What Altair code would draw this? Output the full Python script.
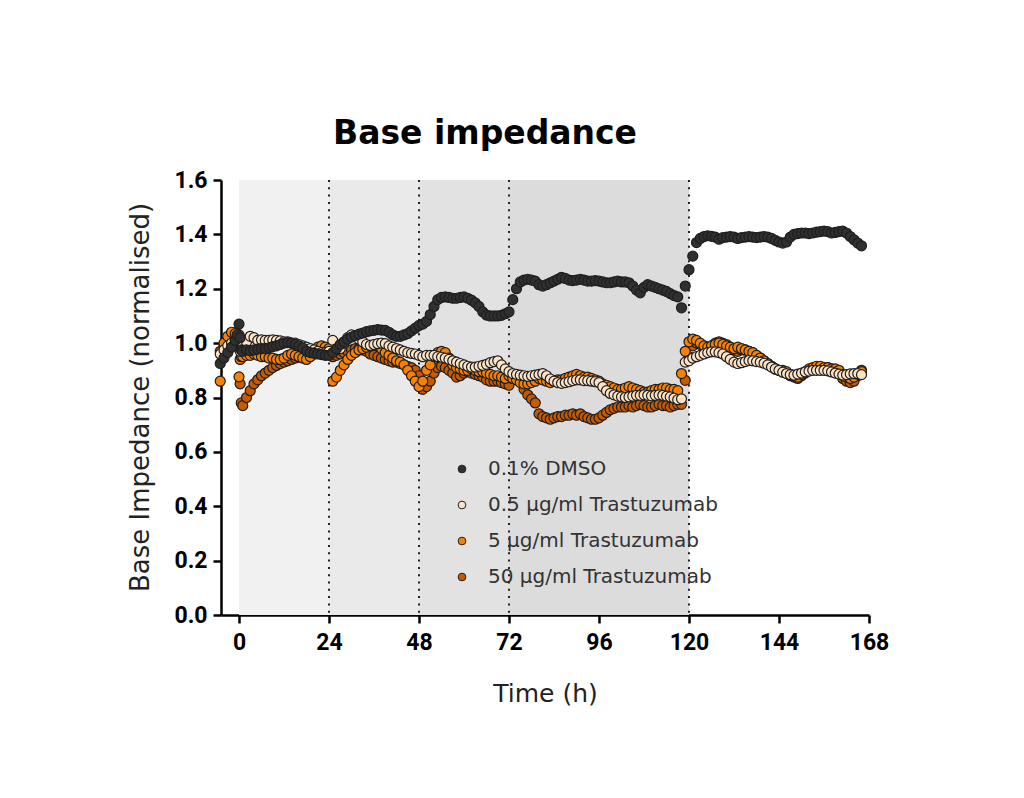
import altair as alt
import pandas as pd

# ---------------- data ----------------
TIME = [-5, -4, -3, -2, -1, -0.5, 0, 0.3, 0.6] + list(range(1, 167))

SERIES = ["0.1% DMSO", "0.5 µg/ml Trastuzumab", "5 µg/ml Trastuzumab", "50 µg/ml Trastuzumab"]
COLORS = ["#303030", "#fde3c6", "#f98000", "#c65a00"]

DMSO = [
    0.925, 0.945, 0.965, 0.985, 1.01, 1.03, 1.07, 1.02, 0.975,
    0.97, 0.975, 0.972, 0.975, 0.978, 0.98, 0.98, 0.983, 0.987, 0.99, 0.995, 1.0,
    1.002, 1.0, 0.995, 0.99, 0.982, 0.97, 0.965, 0.963, 0.96, 0.958, 0.955, 0.955,
    0.965, 0.98, 0.995, 1.005, 1.015, 1.022, 1.028, 1.033, 1.037, 1.042, 1.045, 1.047,
    1.05, 1.048, 1.047, 1.04, 1.03, 1.025, 1.025, 1.03, 1.035, 1.045, 1.055, 1.065,
    1.07, 1.08, 1.105, 1.135, 1.16, 1.168, 1.17, 1.168, 1.165, 1.165, 1.168, 1.17,
    1.165, 1.158, 1.148, 1.135, 1.115, 1.103, 1.1, 1.1, 1.1, 1.102, 1.108, 1.115,
    1.16, 1.2, 1.225, 1.232, 1.235, 1.232, 1.228, 1.215, 1.21, 1.215, 1.222, 1.228,
    1.235, 1.242, 1.238, 1.232, 1.23, 1.232, 1.235, 1.232, 1.228, 1.228, 1.23, 1.228,
    1.225, 1.222, 1.222, 1.225, 1.228, 1.225, 1.225, 1.222, 1.21, 1.195, 1.185, 1.205,
    1.215, 1.21, 1.205, 1.2, 1.195, 1.19, 1.182, 1.175, 1.17, 1.13, 1.21, 1.27,
    1.32, 1.37, 1.385, 1.392, 1.395, 1.393, 1.39, 1.382, 1.388, 1.39, 1.392, 1.39,
    1.385, 1.388, 1.39, 1.392, 1.39, 1.388, 1.39, 1.392, 1.39, 1.385, 1.378, 1.372,
    1.368, 1.372, 1.39, 1.4, 1.403, 1.405, 1.405, 1.403, 1.405, 1.408, 1.41,
    1.412, 1.41, 1.405, 1.407, 1.41, 1.412, 1.405, 1.392, 1.38, 1.368, 1.358,
]

T05 = [
    0.96, 0.975, 0.99, 1.0, 1.01, 1.0, 0.99, 0.97, 0.98,
    1.0, 1.005, 1.025, 1.02, 1.01, 1.012, 1.01, 1.01, 1.012, 1.01, 1.008, 1.005,
    1.005, 1.0, 1.0, 0.995, 0.99, 0.985, 0.98, 0.975, 0.97, 0.965, 0.965, 0.97,
    1.01, 0.975, 0.98, 1.0, 1.02, 1.03, 1.025, 1.015, 1.005, 0.995, 0.992, 0.995,
    0.998, 1.0, 0.998, 0.99, 0.985, 0.98, 0.975, 0.97, 0.965, 0.962, 0.96, 0.955,
    0.95, 0.955, 0.955, 0.955, 0.95, 0.948, 0.945, 0.94, 0.935, 0.93, 0.925, 0.92,
    0.915, 0.912, 0.912, 0.915, 0.918, 0.922, 0.928, 0.932, 0.935, 0.92, 0.905, 0.895,
    0.888, 0.885, 0.882, 0.88, 0.878, 0.88, 0.882, 0.885, 0.888, 0.88, 0.868, 0.86,
    0.855, 0.852, 0.855, 0.858, 0.862, 0.865, 0.865, 0.862, 0.862, 0.86, 0.858, 0.855,
    0.84, 0.825, 0.815, 0.81, 0.805, 0.802, 0.8, 0.802, 0.805, 0.808, 0.808, 0.81,
    0.808, 0.806, 0.808, 0.81, 0.808, 0.805, 0.802, 0.798, 0.792, 0.795, 0.93, 0.935,
    0.945, 0.95, 0.955, 0.96, 0.965, 0.968, 0.968, 0.965, 0.96, 0.95, 0.94, 0.93,
    0.925, 0.928, 0.932, 0.936, 0.935, 0.932, 0.93, 0.926, 0.92, 0.912, 0.905, 0.9,
    0.893, 0.888, 0.884, 0.882, 0.886, 0.89, 0.894, 0.897, 0.9, 0.9, 0.9,
    0.9, 0.898, 0.894, 0.89, 0.886, 0.882, 0.884, 0.887, 0.888, 0.888, 0.884,
]

T5 = [
    0.86, 1.0, 1.025, 1.04, 1.035, 1.02, 0.876, 0.94, 0.95,
    0.95, 0.955, 0.955, 0.96, 0.955, 0.95, 0.95, 0.945, 0.945, 0.94, 0.94, 0.945,
    0.955, 0.96, 0.955, 0.95, 0.945, 0.94, 0.95, 0.97, 0.985, 0.99, 0.985, 0.98,
    0.86, 0.875, 0.9, 0.92, 0.94, 0.955, 0.965, 0.975, 0.98, 0.985, 0.99, 0.995,
    0.99, 0.98, 0.965, 0.955, 0.945, 0.935, 0.93, 0.92, 0.9, 0.88, 0.86, 0.84,
    0.86, 0.9, 0.92, 0.95, 0.965, 0.97, 0.965, 0.945, 0.92, 0.91, 0.905, 0.9,
    0.9, 0.905, 0.9, 0.895, 0.895, 0.89, 0.885, 0.88, 0.88, 0.875, 0.87, 0.88,
    0.87, 0.865, 0.855, 0.85, 0.85, 0.855, 0.86, 0.87, 0.865, 0.86, 0.855, 0.86,
    0.865, 0.865, 0.87, 0.875, 0.88, 0.885, 0.88, 0.875, 0.875, 0.87, 0.865, 0.86,
    0.85, 0.845, 0.84, 0.835, 0.83, 0.83, 0.835, 0.84, 0.835, 0.83, 0.825, 0.82,
    0.82, 0.825, 0.83, 0.83, 0.835, 0.835, 0.83, 0.83, 0.825, 0.888, 0.97, 1.005,
    1.015, 1.01, 1.0, 0.99, 0.985, 0.99, 0.995, 1.0, 0.995, 0.99, 0.985, 0.98,
    0.985, 0.98, 0.975, 0.97, 0.965, 0.955, 0.945, 0.935, 0.925, 0.915, 0.905, 0.9,
    0.9, 0.895, 0.885, 0.88, 0.875, 0.885, 0.895, 0.905, 0.91, 0.915, 0.915,
    0.91, 0.91, 0.905, 0.905, 0.9, 0.885, 0.875, 0.87, 0.875, 0.885, 0.895,
]

T50 = [
    0.97, 0.99, 1.01, 1.03, 1.04, 1.035, 1.03, 0.85, 0.78,
    0.77, 0.8, 0.825, 0.85, 0.865, 0.88, 0.89, 0.9, 0.91, 0.918, 0.925, 0.93,
    0.935, 0.94, 0.945, 0.948, 0.95, 0.95, 0.955, 0.96, 0.965, 0.965, 0.97, 0.97,
    0.95, 0.955, 0.96, 0.965, 0.97, 0.975, 0.98, 0.98, 0.975, 0.97, 0.96, 0.955,
    0.95, 0.945, 0.94, 0.935, 0.93, 0.93, 0.925, 0.92, 0.915, 0.91, 0.9, 0.88,
    0.83, 0.84, 0.86, 0.89, 0.91, 0.915, 0.91, 0.9, 0.89, 0.875, 0.88, 0.89,
    0.895, 0.89, 0.885, 0.88, 0.875, 0.865, 0.86, 0.86, 0.86, 0.855, 0.85, 0.845,
    0.87, 0.875, 0.86, 0.83, 0.81, 0.795, 0.78, 0.74, 0.73, 0.725, 0.72, 0.725,
    0.73, 0.73, 0.735, 0.735, 0.74, 0.735, 0.74, 0.73, 0.725, 0.72, 0.72, 0.725,
    0.735, 0.745, 0.755, 0.76, 0.765, 0.765, 0.765, 0.77, 0.765, 0.77, 0.775, 0.77,
    0.765, 0.765, 0.77, 0.775, 0.77, 0.77, 0.765, 0.77, 0.775, 0.775, 0.863, 0.95,
    0.99, 1.0, 0.995, 0.99, 0.985, 0.99, 1.0, 1.005, 1.0, 0.995, 0.985, 0.975,
    0.97, 0.975, 0.975, 0.97, 0.965, 0.955, 0.945, 0.935, 0.925, 0.915, 0.905, 0.9,
    0.895, 0.89, 0.88, 0.875, 0.87, 0.88, 0.89, 0.9, 0.905, 0.91, 0.91,
    0.905, 0.91, 0.905, 0.9, 0.89, 0.87, 0.86, 0.855, 0.86, 0.88, 0.9,
]

BAND_START = [0, 24, 48, 72]
BAND_END = [24, 48, 72, 120]
BAND_FILL = ["#f1f1f1", "#eaeaea", "#e2e2e2", "#dcdcdc"]
MEDIA_CHANGE = [24, 48, 72, 120]

X_TICKS = [0, 24, 48, 72, 96, 120, 144, 168]
Y_TICKS = [0.0, 0.2, 0.4, 0.6, 0.8, 1.0, 1.2, 1.4, 1.6]

# ---------------- frames ----------------
rows = []
all_vals = [DMSO, T05, T5, T50]
for name, vals in reversed(list(zip(SERIES, all_vals))):
    for t, v in zip(TIME, vals):
        rows.append({"time": t, "value": v, "series": name})
points_df = pd.DataFrame(rows)
bands_df = pd.DataFrame({"start": BAND_START, "end": BAND_END, "shade": BAND_FILL})
rules_df = pd.DataFrame({"time": MEDIA_CHANGE})

W, H = 648, 435
TICK_FONT = "Roboto"
TEXT_FONT = "DejaVu Sans"

xscale = alt.Scale(domain=[-4.8, 168], nice=False, zero=False)
yscale = alt.Scale(domain=[0, 1.6], nice=False)

x_axis = alt.Axis(
    values=X_TICKS, title="Time (h)", labelFlush=False,
    titleX=W / 2, titleY=78, titleBaseline="middle",
)
y_axis = alt.Axis(
    values=Y_TICKS, format=".1f", title="Base Impedance (normalised)",
    titleX=-81, titleY=217, titleBaseline="middle", titleAngle=-90,
)

bands = alt.Chart(bands_df).mark_rect().encode(
    x=alt.X("start:Q", scale=xscale, axis=x_axis),
    x2="end:Q",
    y=alt.value(0),
    y2=alt.value(H),
    fill=alt.Fill("shade:N", scale=None, legend=None),
)

rules = alt.Chart(rules_df).mark_rule(
    color="#222222", strokeWidth=2, strokeDash=[2, 5.3]
).encode(
    x=alt.X("time:Q", scale=xscale, axis=x_axis),
    y=alt.value(0),
    y2=alt.value(H),
)

points = alt.Chart(points_df).mark_circle(
    size=100, opacity=1, stroke="#1e1e1e", strokeWidth=1.2
).encode(
    x=alt.X("time:Q", scale=xscale, axis=x_axis),
    y=alt.Y("value:Q", scale=yscale, axis=y_axis),
    color=alt.Color(
        "series:N",
        scale=alt.Scale(domain=SERIES, range=COLORS),
        legend=alt.Legend(
            title=None, orient="none", legendX=231, legendY=279,
            symbolType="circle", symbolSize=60, symbolStrokeColor="#222222",
            symbolStrokeWidth=1, labelFontSize=20, labelFont=TEXT_FONT,
            labelColor="#333333", labelOffset=16, rowPadding=16,
            labelLimit=400,
        ),
    ),
)

chart = (
    alt.layer(bands, rules, points)
    .properties(
        width=W, height=H,
        autosize=alt.AutoSizeParams(type="none"),
        padding={"left": 213, "top": 172, "right": 140, "bottom": 170},
        background="white",
        title=alt.TitleParams(
            "Base impedance", anchor="start", dx=112, dy=30, offset=22,
            font=TEXT_FONT, fontSize=33, fontWeight="bold", color="#000000",
            baseline="alphabetic", frame="group",
        ),
    )
    .configure_view(strokeWidth=0, stroke="transparent")
    .configure_axis(
        labelFont=TICK_FONT, labelFontWeight="bold", labelFontSize=23,
        labelColor="#000000", domainColor="#000000", domainWidth=2.5,
        tickColor="#000000", tickWidth=2.5, tickSize=8, grid=False,
        titleFont=TEXT_FONT, titleFontWeight="normal", titleColor="#222222",
        zindex=1,
    )
    .configure_axisX(labelPadding=8, titleFontSize=25)
    .configure_axisY(labelPadding=6, titleFontSize=26)
)

chart.save("out.html", embed_options={"renderer": "svg", "actions": False})
